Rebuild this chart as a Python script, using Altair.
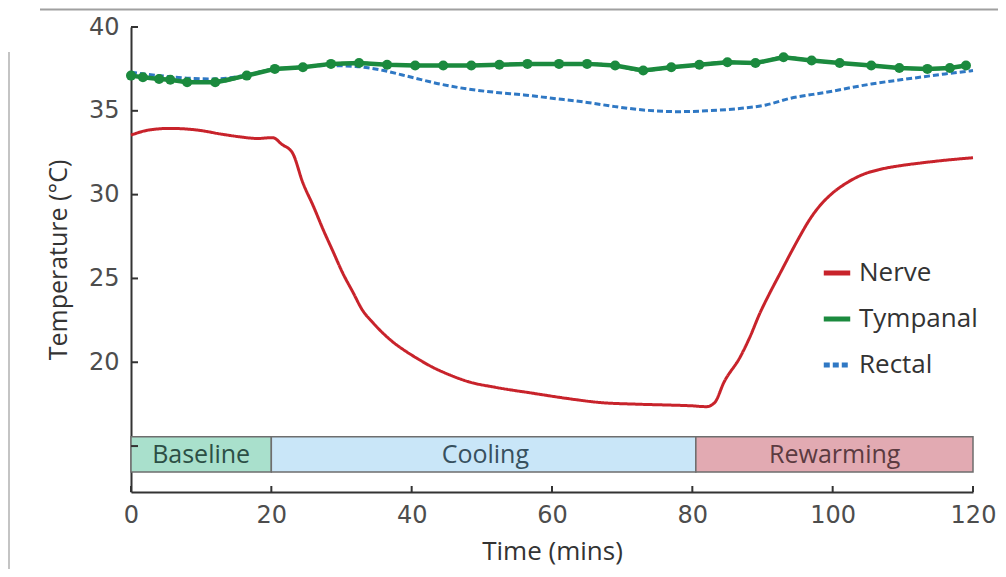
import altair as alt
import pandas as pd

# ---------------- data ----------------
nerve_time = [0, 2.5, 5.5, 9.5, 13, 15.5, 18, 20.2, 21.5, 23, 24.5, 26, 27.4, 28.8, 30.2,
              31.6, 33, 34.5, 36, 37.5, 39, 40.7, 43, 45.4, 48, 52, 57.3, 62, 66.8, 72, 76.4,
              80, 82, 83.2, 84.5, 86.8, 88.2, 89.6, 91, 92.5, 94, 95.3, 96.7, 98.1, 100,
              102, 104.3, 106.7, 110, 112.8, 116, 120]
nerve_temp = [33.55, 33.85, 33.95, 33.85, 33.6, 33.45, 33.35, 33.4, 33.0, 32.5, 30.7, 29.3,
              27.9, 26.6, 25.3, 24.2, 23.1, 22.35, 21.7, 21.15, 20.7, 20.25, 19.7, 19.25,
              18.85, 18.5, 18.15, 17.85, 17.6, 17.5, 17.45, 17.4, 17.35, 17.6, 18.8, 20.3,
              21.5, 22.9, 24.1, 25.3, 26.5, 27.5, 28.5, 29.3, 30.1, 30.7, 31.2, 31.5, 31.75,
              31.9, 32.05, 32.2]

tymp_time = [0, 1.7, 4, 5.6, 8, 12, 16.5, 20.5, 24.5, 28.5, 32.5, 36.5, 40.5, 44.5, 48.5,
             52.5, 56.5, 61, 65, 69, 73, 77, 81, 85, 89, 93, 97, 101, 105.5, 109.5, 113.5,
             116.7, 119]
tymp_temp = [37.1, 37.0, 36.9, 36.85, 36.7, 36.7, 37.1, 37.5, 37.6, 37.8, 37.85, 37.75, 37.7,
             37.7, 37.7, 37.75, 37.8, 37.8, 37.8, 37.7, 37.4, 37.6, 37.75, 37.9, 37.85, 38.2,
             38.0, 37.85, 37.7, 37.55, 37.5, 37.55, 37.7]

rectal_time = [0, 4, 8, 12, 16, 20, 24, 28, 32, 34, 36, 40, 44, 48, 52, 56, 60, 65, 69, 73,
               78, 82, 87, 90.5, 94, 99, 105.5, 111.5, 116, 120]
rectal_temp = [37.3, 37.1, 36.95, 36.9, 37.1, 37.45, 37.6, 37.7, 37.65, 37.55, 37.4, 37.0,
               36.6, 36.3, 36.1, 35.95, 35.75, 35.5, 35.25, 35.05, 34.95, 35.0, 35.15, 35.35,
               35.75, 36.1, 36.6, 36.95, 37.2, 37.4]

series_names = ["Nerve", "Tympanal", "Rectal"]
series_colors = ["#c8232b", "#1b8a3e", "#2f78c4"]

phase_names = ["Baseline", "Cooling", "Rewarming"]
phase_start = [0, 20, 80.5]
phase_end = [20, 80.5, 120]
phase_mid = [10, 50.5, 100.3]
phase_fill = ["#a9e0cc", "#c9e6f8", "#e2aab2"]
phase_text = ["#2c4f45", "#37505e", "#5b3a40"]

y_tick_values = [15, 20, 25, 30, 35, 40]
y_label_values = [20, 25, 30, 35, 40]
x_tick_values = [0, 20, 40, 60, 80, 100, 120]

# ---------------- tables ----------------
lines = pd.concat([
    pd.DataFrame({"t": tymp_time, "temp": tymp_temp, "series": "Tympanal"}),
    pd.DataFrame({"t": rectal_time, "temp": rectal_temp, "series": "Rectal"}),
    pd.DataFrame({"t": nerve_time, "temp": nerve_temp, "series": "Nerve"}),
], ignore_index=True)
tymp = pd.DataFrame({"t": tymp_time, "temp": tymp_temp})
phases = pd.DataFrame({"name": phase_names, "start": phase_start, "end": phase_end,
                       "mid": phase_mid, "fill": phase_fill, "tcol": phase_text})
yt = pd.DataFrame({"v": y_tick_values})
xt = pd.DataFrame({"v": x_tick_values})

W, H = 842, 465
xs = alt.Scale(domain=[0, 120], nice=False, zero=False)
ys = alt.Scale(domain=[12.26, 40], nice=False, zero=False)

BAND_LO, BAND_HI, BAND_TXT = 13.45, 15.55, 14.45

x_axis = alt.Axis(values=x_tick_values, ticks=False, grid=False, domainColor="#333333",
                  domainWidth=2, labelFont="DejaVu Sans", labelFontSize=24,
                  labelColor="#4d4d4d", labelPadding=11, labelFlush=False,
                  title="Time (mins)",
                  titleFont="Open Sans", titleFontSize=26, titleFontWeight="normal",
                  titleColor="#333333", titlePadding=11)
y_axis = alt.Axis(values=y_label_values, ticks=False, grid=False, domainColor="#333333",
                  domainWidth=2, labelFont="DejaVu Sans", labelFontSize=24,
                  labelColor="#4d4d4d", labelPadding=12, labelFlush=False,
                  title="Temperature (°C)",
                  titleFont="Open Sans", titleFontSize=25, titleFontWeight="normal",
                  titleColor="#333333", titlePadding=17)


def X(field):
    return alt.X(field, scale=xs, axis=x_axis)


def Y(field):
    return alt.Y(field, scale=ys, axis=y_axis)


bands = alt.Chart(phases).mark_rect(stroke="#6e6e6e", strokeWidth=1.5).encode(
    x=X("start:Q"), x2="end:Q",
    y=Y("lo:Q"), y2="hi:Q",
    fill=alt.Fill("fill:N", scale=None),
).transform_calculate(lo=str(BAND_LO), hi=str(BAND_HI))

band_text = alt.Chart(phases).mark_text(font="Open Sans", fontSize=25, baseline="middle").encode(
    x=X("mid:Q"), y=Y("ty:Q"),
    text="name:N",
    color=alt.Color("tcol:N", scale=None),
).transform_calculate(ty=str(BAND_TXT))

y_ticks = alt.Chart(yt).mark_rule(color="#333333", strokeWidth=2).encode(
    y=Y("v:Q"), x=alt.value(0), x2=alt.value(7))
x_ticks = alt.Chart(xt).mark_rule(color="#333333", strokeWidth=2).encode(
    x=X("v:Q"), y=alt.value(H), y2=alt.value(H - 6))

line_layer = alt.Chart(lines).mark_line(interpolate="monotone", strokeWidth=3).encode(
    x=X("t:Q"), y=Y("temp:Q"),
    color=alt.Color("series:N", scale=alt.Scale(domain=series_names, range=series_colors),
                    sort=series_names,
                    legend=alt.Legend(title=None, orient="none", legendX=690, legendY=230,
                                      symbolType="stroke", symbolSize=700,
                                      symbolStrokeWidth=5, labelFont="Open Sans",
                                      labelFontSize=26, labelColor="#333333",
                                      labelOffset=6, rowPadding=17, padding=0)),
    strokeDash=alt.StrokeDash("series:N",
                              scale=alt.Scale(domain=series_names,
                                              range=[[1, 0], [1, 0], [6, 3]]),
                              sort=series_names, legend=alt.Legend(title=None)),
    order=alt.Order("t:Q"),
)

tymp_line = alt.Chart(tymp).mark_line(strokeWidth=4.5, color="#1b8a3e").encode(
    x=X("t:Q"), y=Y("temp:Q"), order=alt.Order("t:Q"),
)
tymp_pts = alt.Chart(tymp).mark_circle(size=100, opacity=1, color="#1b8a3e").encode(
    x=X("t:Q"), y=Y("temp:Q"),
)

frame_top = alt.Chart(alt.Data(values=[{}])).mark_rule(color="#a0a0a0", strokeWidth=2).encode(
    x=alt.value(-91), x2=alt.value(880), y=alt.value(-17.5))
frame_left = alt.Chart(alt.Data(values=[{}])).mark_rule(color="#b0b0b0", strokeWidth=1.5).encode(
    x=alt.value(-122), y=alt.value(25), y2=alt.value(560))

chart = alt.layer(
    bands, band_text, y_ticks, x_ticks, line_layer, tymp_line, tymp_pts, frame_top, frame_left
).properties(
    width=W, height=H,
    background="white",
    autosize=alt.AutoSizeParams(type="none"),
    padding={"left": 123, "top": 19, "right": 25, "bottom": 77},
).configure_view(stroke=None)

chart.save("out.html", embed_options={"renderer": "svg", "actions": False})
